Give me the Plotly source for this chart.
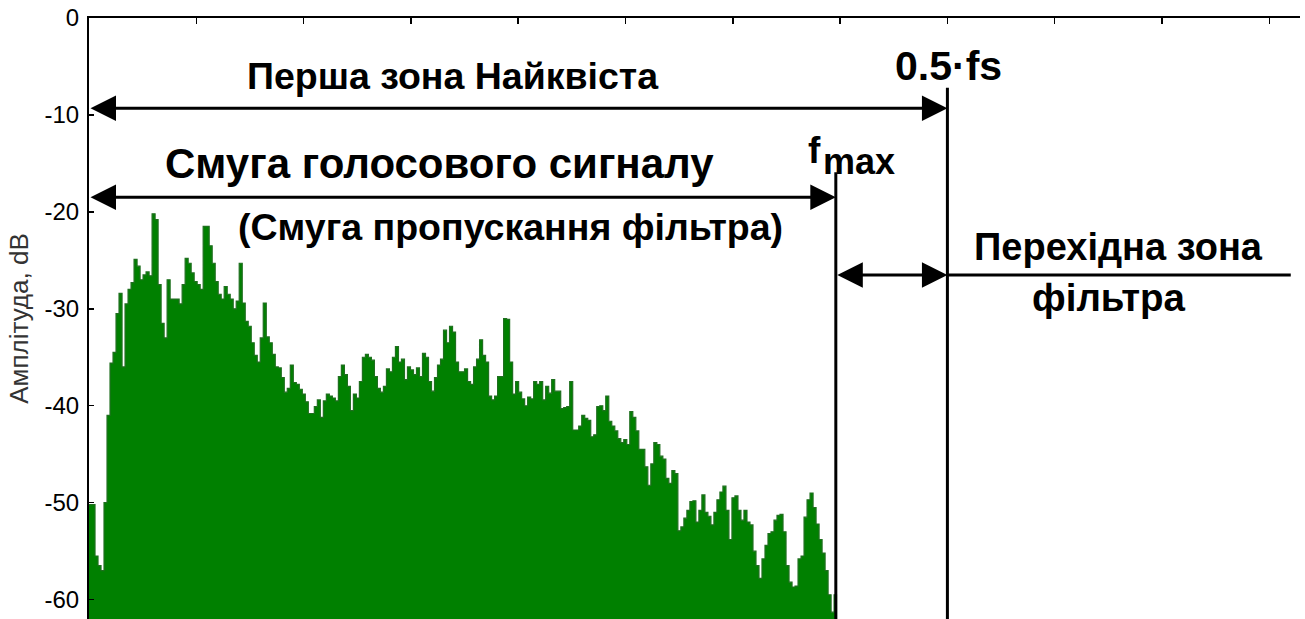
import plotly.graph_objects as go

# ---- data ----
FREQ_STEP_HZ = 14          # width of one spectrum bin, Hz
F_MAX = 3480               # upper edge of the voice band, Hz
F_HALF = 4000              # 0.5*fs, Hz
F_RIGHT = 5600             # end of the transition-zone line, Hz
X_MAX = 5643
Y_MIN, Y_MAX = -62, 0
x_ticks = list(range(0, 6000, 500))
y_ticks = [0, -10, -20, -30, -40, -50, -60]

amp_0_700 = [
    -50.2, -50.2, -55.5, -56.5, -57, -50, -41, -35.6, -34.5, -30.5,
    -28.4, -36, -29.5, -28.0, -27.3, -24.9, -25.6, -27, -26.5, -26.2,
    -26.6, -20.2, -20.8, -27.5, -31.5, -33, -27, -29, -29, -29,
    -29.5, -27.5, -24.8, -25.3, -26.3, -27.2, -27.5, -28, -21.5, -21.5,
    -23.5, -25.3, -27.2, -28.5, -29, -27.7, -28.5, -29, -30, -29.2,
]
amp_700_1400 = [
    -25.3, -29.4, -31.3, -31.8, -33.5, -34.8, -35.5, -33, -29.4, -32.9,
    -33.5, -34.7, -36, -36.1, -37.1, -38.6, -38.2, -35.8, -37.6, -37.8,
    -38.3, -38.8, -39.6, -40.8, -40.8, -40.1, -39.4, -41.2, -39.5, -38.8,
    -39, -39.2, -39.5, -37, -35.8, -36.8, -38, -40.5, -38.8, -39.2,
    -37.5, -35, -34.7, -35, -35.3, -37, -38.2, -38.6, -38, -36.2,
]
amp_1400_2100 = [
    -36.5, -35, -33.9, -35.5, -35.2, -37.3, -36, -36.3, -36.8, -36.1,
    -37, -34.6, -35, -37.5, -38.5, -37.1, -35.8, -35.2, -32.2, -33.5,
    -31.8, -32.4, -35.5, -36.5, -36.5, -36.2, -37.5, -37.8, -36, -35.2,
    -33.2, -34.8, -35.5, -39, -39.4, -39, -37, -37, -31, -31.1,
    -35.5, -38.8, -37.5, -38.6, -39.3, -40, -39.1, -39.3, -37.5, -37.8,
]
amp_2100_2800 = [
    -37.5, -39.4, -38, -38.7, -37.3, -38.5, -38.5, -40.3, -40.2, -40.1,
    -37.5, -42.5, -42.5, -42.1, -41, -41.3, -41.5, -43.2, -43, -40.1,
    -40, -40.5, -39, -41.6, -42.1, -42.6, -43.4, -43.8, -43.5, -44,
    -40.6, -41.2, -42.6, -44.5, -44.5, -46.3, -48.2, -46, -43.8, -44,
    -45.2, -45.5, -47.5, -48, -46.7, -47, -52.9, -52.5, -51.6, -50.8,
]
amp_2800_3490 = [
    -49.9, -49.8, -52, -50.8, -49.2, -51, -51.4, -52.3, -51, -49.7,
    -48.9, -48.3, -50.8, -53.8, -49.5, -49.3, -50.8, -51.8, -50.8, -52,
    -52.3, -55, -56.5, -57.8, -55.8, -54.4, -53.2, -53, -51.8, -51.3,
    -51.2, -53, -56.5, -58.2, -58.7, -58.6, -55.8, -55.5, -51.5, -49.7,
    -49, -50.5, -52.2, -53.8, -55.2, -57, -59.5, -61.3, -59.5,
]

amp = amp_0_700 + amp_700_1400 + amp_1400_2100 + amp_2100_2800 + amp_2800_3490
freqs = [i * FREQ_STEP_HZ for i in range(len(amp))] + [len(amp) * FREQ_STEP_HZ]
amps = amp + [amp[-1]]

fig = go.Figure()
# baseline under the spectrum (below the visible range)
fig.add_trace(go.Scatter(x=[freqs[0], freqs[-1]], y=[Y_MIN - 10, Y_MIN - 10],
                         mode="lines", line=dict(width=0), hoverinfo="skip",
                         showlegend=False))
fig.add_trace(go.Scatter(x=freqs, y=amps, mode="lines", line_shape="hv",
                         line=dict(color="#1f6f1f", width=1.2),
                         fill="tonexty", fillcolor="#008000",
                         showlegend=False))

LINE_W = 3
# vertical markers
fig.add_shape(type="line", x0=F_MAX, x1=F_MAX, y0=Y_MIN - 5, y1=-15.9,
              line=dict(color="black", width=LINE_W))
fig.add_shape(type="line", x0=F_HALF, x1=F_HALF, y0=Y_MIN - 5, y1=-7.2,
              line=dict(color="black", width=LINE_W))
# continuation of the transition-zone line
fig.add_shape(type="line", x0=F_HALF, x1=F_RIGHT, y0=-26.5, y1=-26.5,
              line=dict(color="black", width=LINE_W))


def double_arrow(x0, x1, y):
    fig.add_annotation(x=x1, y=y, ax=x0, ay=y, xref="x", yref="y",
                       axref="x", ayref="y", text="", showarrow=True,
                       arrowhead=2, arrowside="end+start", arrowsize=1.7,
                       arrowwidth=LINE_W, arrowcolor="black",
                       standoff=0, startstandoff=0)


double_arrow(0, F_HALF, -9.3)
double_arrow(0, F_MAX, -18.5)
double_arrow(F_MAX, F_HALF, -26.5)

FAMILY = "Liberation Sans, Arial, sans-serif"


def label(x, y, text, size, xanchor="center"):
    fig.add_annotation(x=x, y=y, xref="x", yref="y", text=text,
                       showarrow=False,
                       font=dict(family=FAMILY, size=size, color="black"),
                       xanchor=xanchor, yanchor="middle")


label(1696, -6.0, "<b>Перша зона Найквіста</b>", 37.5)
label(4003, -4.9, "<b>0.5·fs</b>", 41)
label(1631, -15.0, "<b>Смуга голосового сигналу</b>", 42)
label(3382, -13.7, "<b>f</b>", 37)
label(3590, -14.8, "<b>max</b>", 36)
label(1966, -21.6, "<b>(Смуга пропускання фільтра)</b>", 37.5)
label(4795, -23.6, "<b>Перехідна зона</b>", 38)
label(4749, -28.8, "<b>фільтра</b>", 38.5)

fig.update_layout(
    width=1305, height=619,
    margin=dict(l=89, r=5, t=18, b=0, autoexpand=False),
    plot_bgcolor="white", paper_bgcolor="white",
    font=dict(family=FAMILY, color="black"),
    xaxis=dict(range=[0, X_MAX], tickvals=x_ticks, showticklabels=False,
               side="top", ticks="inside", ticklen=6, tickwidth=1.5,
               tickcolor="black", showline=True, linecolor="black",
               linewidth=2, mirror=False,
               showgrid=False, zeroline=False, fixedrange=True,
               automargin=False),
    yaxis=dict(range=[Y_MIN, Y_MAX], tickvals=y_ticks,
               ticktext=[str(v) for v in y_ticks],
               ticks="inside", ticklen=5, tickwidth=1.5, tickcolor="black",
               tickfont=dict(size=24, color="black"), ticklabelstandoff=3,
               ticklabeloverflow="allow",
               showline=True, linecolor="black", linewidth=2, mirror=False,
               showgrid=False, zeroline=False, fixedrange=True,
               automargin=False,
               title=dict(text="Амплітуда, dB", standoff=8,
                          font=dict(size=26, color="#333"))),
)

# place the figure at the top-left corner of the page (no body margin)
fig.write_html("out.html",
               config={"displayModeBar": False, "staticPlot": True},
               post_script="document.body.style.margin='0';")
